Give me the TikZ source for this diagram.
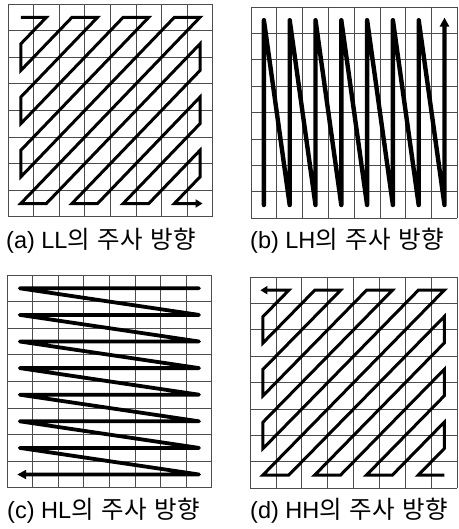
\documentclass[tikz,border=0pt]{standalone}
\usepackage{fontspec}
\setmainfont{Liberation Sans}
\newfontfamily\kr{Noto Sans CJK KR}
\usetikzlibrary{arrows.meta}
\newcommand{\scangrid}{\foreach \k in {0,...,8} {\draw[gridline] (\k,0) -- (\k,8); \draw[gridline] (0,\k) -- (8,\k);}}
\newcommand{\krsp}{\hspace{0.32em}}
\newcommand{\krtxt}[1]{{\fontsize{24.5}{28}\selectfont\kr #1}}
\begin{document}
\begin{tikzpicture}[x=1pt,y=-1pt,
  gridline/.style={draw=black!70, line width=0.8pt},
  diagscan/.style={draw=black, line width=3pt, line join=miter, miter limit=3, -{Triangle[length=7pt,width=8pt]}},
  colscan/.style={draw=black, line width=4.4pt, line join=round, line cap=round, -{Triangle[length=9pt,width=9pt]}},
  rowscan/.style={draw=black, line width=3.8pt, line join=round, line cap=round, -{Triangle[length=9pt,width=9pt]}},
  captxt/.style={anchor=base west, inner sep=0pt, font=\fontsize{23.5}{27}\selectfont}]
\useasboundingbox (0,0) rectangle (458,529);

% (a) LL
\begin{scope}[shift={(8,4)}, xscale=25.6, yscale=26.6]
  \scangrid
  \draw[diagscan] (0.5,0.5) -- (1.5,0.5) -- (0.5,1.5) -- (0.5,2.5) -- (2.5,0.5) -- (3.5,0.5)
    -- (0.5,3.5) -- (0.5,4.5) -- (4.5,0.5) -- (5.5,0.5) -- (0.5,5.5) -- (0.5,6.5)
    -- (6.5,0.5) -- (7.5,0.5) -- (0.5,7.5) -- (1.5,7.5) -- (7.5,1.5) -- (7.5,2.5)
    -- (2.5,7.5) -- (3.5,7.5) -- (7.5,3.5) -- (7.5,4.5) -- (4.5,7.5) -- (5.5,7.5)
    -- (7.5,5.5) -- (7.5,6.5) -- (6.5,7.5) -- (7.6,7.5);
\end{scope}

% (b) LH
\begin{scope}[shift={(251,7)}, xscale=25.8, yscale=26.4]
  \scangrid
  \draw[colscan] (0.5,7.5) -- (0.5,0.5) -- (1.5,7.5) -- (1.5,0.5) -- (2.5,7.5) -- (2.5,0.5)
    -- (3.5,7.5) -- (3.5,0.5) -- (4.5,7.5) -- (4.5,0.5) -- (5.5,7.5) -- (5.5,0.5)
    -- (6.5,7.5) -- (6.5,0.5) -- (7.5,7.5) -- (7.5,0.4);
\end{scope}

% (c) HL
\begin{scope}[shift={(7,275)}, xscale=25.6, yscale=26.6]
  \scangrid
  \draw[rowscan] (7.5,0.5) -- (0.5,0.5) -- (7.5,1.5) -- (0.5,1.5) -- (7.5,2.5) -- (0.5,2.5)
    -- (7.5,3.5) -- (0.5,3.5) -- (7.5,4.5) -- (0.5,4.5) -- (7.5,5.5) -- (0.5,5.5)
    -- (7.5,6.5) -- (0.5,6.5) -- (7.5,7.5) -- (0.4,7.5);
\end{scope}

% (d) HH
\begin{scope}[shift={(250,277)}, xscale=25.9, yscale=26.4]
  \scangrid
  \draw[diagscan] (7.5,7.5) -- (6.5,7.5) -- (7.5,6.5) -- (7.5,5.5) -- (5.5,7.5) -- (4.5,7.5)
    -- (7.5,4.5) -- (7.5,3.5) -- (3.5,7.5) -- (2.5,7.5) -- (7.5,2.5) -- (7.5,1.5)
    -- (1.5,7.5) -- (0.5,7.5) -- (7.5,0.5) -- (6.5,0.5) -- (0.5,6.5) -- (0.5,5.5)
    -- (5.5,0.5) -- (4.5,0.5) -- (0.5,4.5) -- (0.5,3.5) -- (3.5,0.5) -- (2.5,0.5)
    -- (0.5,2.5) -- (0.5,1.5) -- (1.5,0.5) -- (0.4,0.5);
\end{scope}

\node[captxt] (capa) at (6,248) {(a) LL\krtxt{의\krsp 주사\krsp 방향}};
\node[captxt] (capb) at (250,248) {(b) LH\krtxt{의\krsp 주사\krsp 방향}};
\node[captxt] (capc) at (7,518) {(c) HL\krtxt{의\krsp 주사\krsp 방향}};
\node[captxt] (capd) at (250,518) {(d) HH\krtxt{의\krsp 주사\krsp 방향}};
\end{tikzpicture}
\end{document}
